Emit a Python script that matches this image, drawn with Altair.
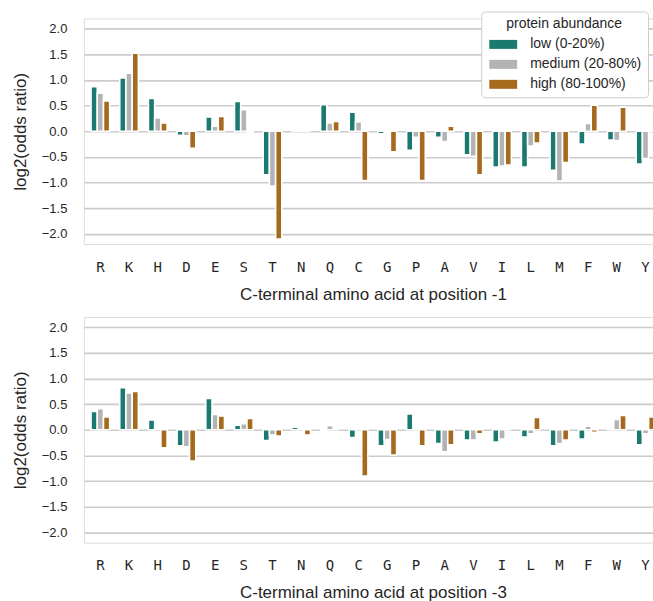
import altair as alt
import pandas as pd

# Amino acids on the x axis, in display order
amino_acids = ["R", "K", "H", "D", "E", "S", "T", "N", "Q", "C",
               "G", "P", "A", "V", "I", "L", "M", "F", "W", "Y"]

# Protein abundance classes and their colours
abundance_levels = ["low (0-20%)", "medium (20-80%)", "high (80-100%)"]
level_colors = ["#1a7a6f", "#b3b3b3", "#a66a1f"]

# log2(odds ratio) for the C-terminal residue at position -1
pos1_low = [0.87, 1.04, 0.64, -0.08, 0.28, 0.58, -0.85, 0.01, 0.52, 0.37,
            -0.05, -0.37, -0.12, -0.46, -0.70, -0.70, -0.76, -0.25, -0.17, -0.64]
pos1_medium = [0.74, 1.13, 0.26, -0.09, 0.10, 0.42, -1.07, 0.03, 0.16, 0.18,
               -0.02, -0.12, -0.20, -0.49, -0.68, -0.29, -0.97, 0.15, -0.18, -0.53]
pos1_high = [0.59, 1.52, 0.16, -0.33, 0.29, -0.02, -2.10, 0.00, 0.19, -0.96,
             -0.40, -0.96, 0.10, -0.85, -0.66, -0.23, -0.61, 0.51, 0.47, 0.00]

# log2(odds ratio) for the residue at position -3
pos3_low = [0.36, 0.82, 0.19, -0.31, 0.61, 0.09, -0.21, 0.05, -0.03, -0.15,
            -0.31, 0.31, -0.27, -0.20, -0.24, -0.14, -0.31, -0.18, 0.03, -0.29]
pos3_medium = [0.41, 0.72, 0.00, -0.33, 0.30, 0.12, -0.10, 0.02, 0.08, 0.00,
               -0.19, 0.00, -0.43, -0.20, -0.18, -0.08, -0.27, 0.07, 0.20, -0.08]
pos3_high = [0.25, 0.75, -0.35, -0.61, 0.27, 0.22, -0.12, -0.10, 0.00, -0.90,
             -0.49, -0.31, -0.29, -0.08, 0.00, 0.24, -0.20, -0.05, 0.28, 0.25]

y_ticks = [-2.0, -1.5, -1.0, -0.5, 0.0, 0.5, 1.0, 1.5, 2.0]


def long_table(series):
    rows = []
    for level, values in zip(abundance_levels, series):
        for aa, v in zip(amino_acids, values):
            rows.append({"aa": aa, "abundance": level, "value": v})
    return pd.DataFrame(rows)


SANS = "Liberation Sans"
MONO = "DejaVu Sans Mono"
TEXT = "#262626"
GRID = "#cccccc"

# Legend swatch: a wide flat rectangle
swatch = "M-3.1,-1L3.1,-1L3.1,1L-3.1,1Z"


def panel(series, position, show_legend):
    legend = None
    if show_legend:
        legend = alt.Legend(
            title="protein abundance",
            orient="none",
            legendX=398,
            legendY=-7,
            titleAnchor="middle",
            titleFont=SANS,
            titleFontSize=14,
            titleFontWeight="normal",
            titleColor=TEXT,
            titlePadding=6,
            labelFont=SANS,
            labelFontSize=14,
            labelColor=TEXT,
            labelOffset=20,
            symbolType=swatch,
            symbolSize=81,
            symbolStrokeWidth=0,
            symbolOffset=9,
            rowPadding=6,
            padding=6,
            strokeColor=GRID,
            fillColor="white",
            cornerRadius=4,
        )
    color = alt.Color(
        "abundance:N",
        scale=alt.Scale(domain=abundance_levels, range=level_colors),
        sort=abundance_levels,
        legend=legend,
    )
    return alt.Chart(long_table(series)).mark_bar(
        stroke="white", strokeWidth=1.6
    ).encode(
        x=alt.X(
            "aa:N",
            sort=amino_acids,
            scale=alt.Scale(paddingInner=0.35, paddingOuter=0.25),
            axis=alt.Axis(
                title=f"C-terminal amino acid at position {position}",
                labelAngle=0,
                labelFont=MONO,
                labelFontSize=14,
                labelColor=TEXT,
                labelPadding=16,
                ticks=False,
                domain=False,
                grid=False,
                titleFont=SANS,
                titleFontSize=17,
                titleFontWeight="normal",
                titleColor=TEXT,
                titlePadding=12,
            ),
        ),
        xOffset=alt.XOffset("abundance:N", sort=abundance_levels,
                            scale=alt.Scale(domain=abundance_levels)),
        y=alt.Y(
            "value:Q",
            scale=alt.Scale(domain=[-2.2, 2.2], nice=False, zero=False),
            axis=alt.Axis(
                title="log2(odds ratio)",
                values=y_ticks,
                format=".1f",
                labelFont=SANS,
                labelFontSize=13,
                labelColor=TEXT,
                labelPadding=17,
                ticks=False,
                domain=False,
                grid=True,
                gridColor=GRID,
                gridWidth=1.6,
                titleFont=SANS,
                titleFontSize=17,
                titleFontWeight="normal",
                titleColor=TEXT,
                titlePadding=12,
            ),
        ),
        color=color,
    ).properties(width=579, height=226)


top = panel([pos1_low, pos1_medium, pos1_high], "-1", True)
bottom = panel([pos3_low, pos3_medium, pos3_high], "-3", False)

# The right edge of the plot frame runs just past the page edge
chart = alt.vconcat(top, bottom, spacing=13).properties(
    padding={"left": 10, "top": 10, "right": -10, "bottom": 0}
).configure_view(
    stroke=GRID, strokeWidth=1.6
).configure(background="white")

chart.save("out.html", embed_options={"renderer": "svg", "actions": False})
